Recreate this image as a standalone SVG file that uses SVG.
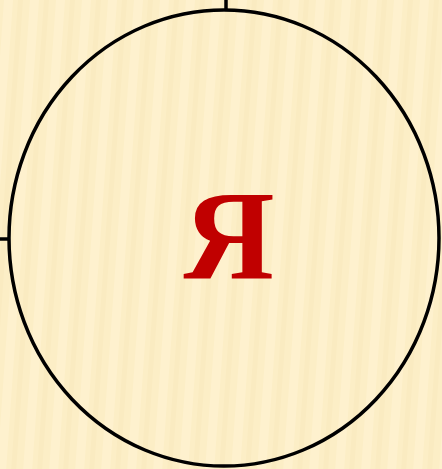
<svg xmlns="http://www.w3.org/2000/svg" width="442" height="469" viewBox="0 0 442 469">
  <defs>
    <pattern id="stripes" width="26" height="469" patternUnits="userSpaceOnUse" patternTransform="skewX(-4)">
      <rect width="26" height="469" fill="#FCEEC6"/>
      <rect x="4" width="9" height="469" fill="#FFF3D4" opacity="0.6"/>
      <rect x="18" width="5" height="469" fill="#F8E8BC" opacity="0.5"/>
    </pattern>
  </defs>
  <style>
    .outline { fill: none; stroke: #000; stroke-width: 3.5; }
    .tick { stroke: #000; stroke-width: 3.5; }
    .label { font-family: "Liberation Serif", "Times New Roman", serif; font-weight: bold; font-size: 126px; fill: #C00000; text-anchor: middle; }
  </style>
  <rect width="442" height="469" fill="url(#stripes)"/>
  <g id="connectors">
    <line class="tick" x1="226" y1="0" x2="226" y2="9"/>
    <line class="tick" x1="0" y1="239" x2="9" y2="239"/>
  </g>
  <g id="node-ya">
    <ellipse class="outline" cx="224" cy="238" rx="215" ry="228"/>
    <text class="label" x="229" y="278">Я</text>
  </g>
</svg>
